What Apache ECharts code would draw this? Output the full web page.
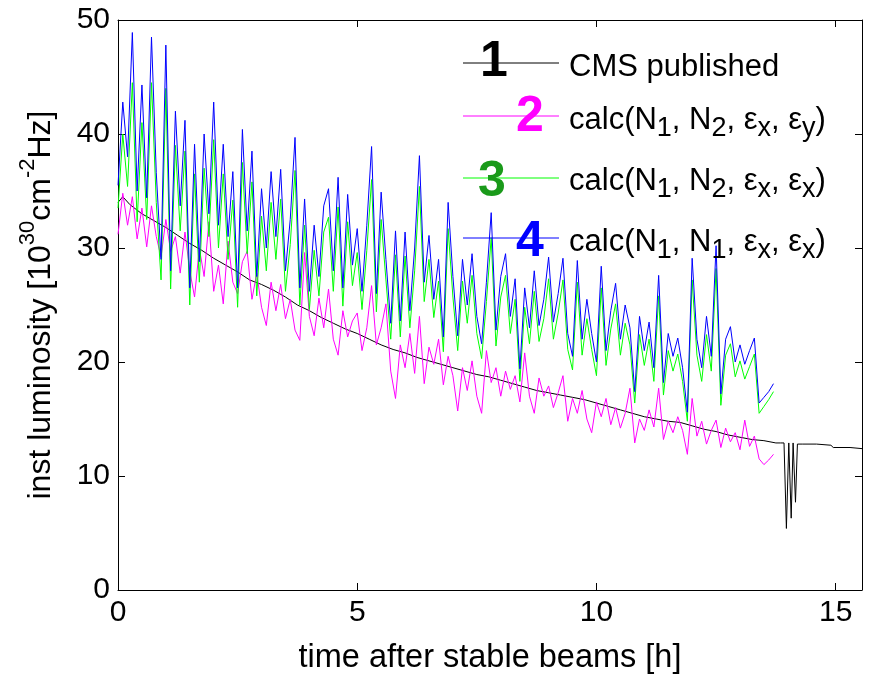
<!DOCTYPE html>
<html>
<head>
<meta charset="utf-8">
<script src="https://cdn.jsdelivr.net/npm/echarts@6/dist/echarts.min.js"></script>
<style>
  html, body { margin: 0; padding: 0; background: #fff; }
  #chart { width: 871px; height: 680px; }
</style>
</head>
<body>
<div id="chart"></div>
<script>
// Sampling times [h] of the calculated luminosities
var tCalc = [
  0.0, 0.1, 0.2, 0.3, 0.4, 0.5, 0.6, 0.7, 0.8, 0.9,
  1.0, 1.1, 1.2, 1.3, 1.4, 1.5, 1.6, 1.7, 1.8, 1.9,
  2.0, 2.1, 2.2, 2.3, 2.4, 2.5, 2.6, 2.7, 2.8, 2.9,
  3.0, 3.1, 3.2, 3.3, 3.4, 3.5, 3.6, 3.7, 3.8, 3.9,
  4.0, 4.1, 4.2, 4.3, 4.4, 4.5, 4.6, 4.7, 4.8, 4.9,
  5.0, 5.1, 5.2, 5.3, 5.4, 5.5, 5.6, 5.7, 5.8, 5.9,
  6.0, 6.1, 6.2, 6.3, 6.4, 6.5, 6.6, 6.7, 6.8, 6.9,
  7.0, 7.1, 7.2, 7.3, 7.4, 7.5, 7.6, 7.7, 7.8, 7.9,
  8.0, 8.1, 8.2, 8.3, 8.4, 8.5, 8.6, 8.7, 8.8, 8.9,
  9.0, 9.1, 9.2, 9.3, 9.4, 9.5, 9.6, 9.7, 9.8, 9.9,
  10.0, 10.1, 10.2, 10.3, 10.4, 10.5, 10.6, 10.7, 10.8, 10.9,
  11.0, 11.1, 11.2, 11.3, 11.4, 11.5, 11.6, 11.7, 11.8, 11.9,
  12.0, 12.1, 12.2, 12.3, 12.4, 12.5, 12.6, 12.7, 12.8, 12.9,
  13.0, 13.1, 13.2, 13.3, 13.4, 13.5, 13.6, 13.7
];

// 2: calc(N1, N2, eps_x, eps_y)
var lumiCalc2 = [
  31.2, 34.8, 32.0, 34.5, 30.8, 33.5, 30.1, 33.7, 31.0, 29.2,
  32.5, 29.7, 31.0, 27.8, 31.4, 28.0, 25.7, 30.0, 27.5, 32.3,
  26.2, 28.5, 25.1, 30.6, 27.0, 26.0, 28.8, 29.7, 25.5, 27.8,
  24.8, 23.2, 27.0, 24.5, 26.8, 23.8, 25.5, 22.8, 21.9, 29.6,
  24.0, 22.3, 25.6, 23.0, 26.4, 22.0, 20.6, 24.5, 22.2, 23.6,
  24.3, 21.0, 23.0, 26.7, 21.5, 23.0, 25.1, 19.2, 16.8, 21.5,
  19.5, 22.5, 19.0, 24.0, 18.1, 21.3, 19.8, 22.0, 18.0, 20.5,
  18.8, 15.7, 19.5, 17.5, 20.1, 17.0, 15.5, 21.0, 18.2, 19.5,
  17.0, 19.2, 17.6, 18.8, 16.5, 20.8, 17.0, 15.5, 18.6, 17.0,
  17.9, 16.0, 17.3, 18.8, 14.8, 16.8, 15.5, 17.5, 15.0, 13.8,
  16.5, 15.2, 16.8, 14.5, 16.0, 14.2, 15.5, 17.7, 12.9, 15.0,
  14.0, 15.8, 14.3, 17.7, 13.2, 14.8, 13.8, 15.2, 14.0, 11.9,
  16.8, 13.5, 14.8, 12.8, 14.0, 14.9, 12.5, 14.2, 13.0, 13.8,
  12.3, 14.9, 12.6, 13.5, 11.5, 11.0, 11.4, 11.9
];

// 3: calc(N1, N2, eps_x, eps_x)
var lumiCalc3 = [
  33.5, 40.0, 35.4, 44.5, 32.3, 41.0, 32.5, 44.5, 34.0, 27.2,
  44.0, 26.4, 39.0, 31.5, 38.5, 25.0, 36.5, 27.0, 37.0, 31.0,
  39.5, 30.0, 36.5, 29.0, 34.2, 24.8, 37.5, 29.5, 35.8, 25.8,
  32.8, 28.0, 34.0, 29.0, 34.3, 26.2, 30.3, 36.8, 25.0, 32.0,
  24.6, 29.8, 25.8, 31.4, 32.7, 26.2, 33.6, 24.9, 32.3, 26.7,
  29.6, 24.6, 29.8, 36.0, 24.4, 32.5, 27.2, 22.0, 29.4, 22.2,
  29.3, 23.0, 28.0, 35.4, 25.3, 29.0, 23.9, 27.1, 20.9, 31.7,
  25.7, 21.0, 27.1, 23.4, 27.6, 22.5, 20.3, 25.3, 30.9, 21.4,
  25.7, 27.6, 22.5, 25.5, 18.3, 24.8, 21.6, 26.2, 21.8, 23.8,
  27.3, 22.0, 24.3, 27.2, 21.1, 19.3, 27.0, 20.6, 23.8, 21.1,
  18.8, 26.5, 19.7, 22.9, 25.1, 20.6, 23.4, 21.5, 16.4, 22.4,
  19.7, 22.0, 18.3, 25.8, 17.1, 21.0, 19.2, 20.7, 18.3, 14.8,
  27.2, 20.6, 18.3, 22.4, 19.2, 28.2, 16.2, 20.6, 21.6, 18.7,
  20.1, 18.5, 19.6, 20.7, 15.5, 16.1, 16.7, 17.4
];

// 4: calc(N1, N1, eps_x, eps_x)
var lumiCalc4 = [
  35.5, 42.8, 38.0, 48.9, 35.0, 44.3, 34.4, 48.5, 36.6, 29.0,
  47.8, 28.0, 42.0, 33.7, 41.2, 26.5, 39.1, 28.8, 40.0, 33.0,
  42.8, 32.0, 39.1, 31.0, 36.7, 26.5, 40.4, 31.5, 38.5, 27.5,
  35.2, 30.0, 36.7, 31.0, 36.9, 28.0, 32.5, 39.7, 26.5, 34.3,
  26.2, 32.0, 27.5, 33.7, 35.2, 28.0, 36.2, 26.5, 34.7, 28.5,
  31.7, 26.2, 32.0, 38.9, 26.0, 34.9, 29.0, 23.4, 31.5, 23.6,
  31.4, 24.5, 30.0, 38.1, 27.0, 31.1, 25.5, 29.0, 22.2, 34.0,
  27.5, 22.3, 29.0, 25.0, 29.5, 24.0, 21.6, 27.0, 33.1, 22.8,
  27.5, 29.5, 24.0, 27.3, 19.4, 26.5, 23.0, 28.0, 23.2, 25.5,
  29.2, 23.5, 26.0, 29.1, 22.5, 20.5, 28.9, 22.0, 25.5, 22.5,
  20.0, 28.4, 21.0, 24.5, 26.9, 22.0, 25.0, 23.0, 17.4, 24.0,
  21.0, 23.5, 19.5, 27.6, 18.2, 22.5, 20.5, 22.1, 19.5, 15.6,
  29.1, 22.0, 19.5, 24.0, 20.5, 30.2, 17.2, 22.0, 23.1, 20.0,
  21.5, 19.8, 21.0, 22.1, 16.4, 16.9, 17.4, 18.1
];

// 1: CMS published luminosity
var tCms = [
  0.0, 0.1, 0.25, 0.5, 0.75, 1.0, 1.25, 1.5, 1.75, 2.0,
  2.25, 2.5, 2.75, 3.0, 3.25, 3.5, 3.75, 4.0, 4.25, 4.5,
  4.75, 5.0, 5.25, 5.5, 5.75, 6.0, 6.25, 6.5, 6.75, 7.0,
  7.25, 7.5, 7.75, 8.0, 8.25, 8.5, 8.75, 9.0, 9.25, 9.5,
  9.75, 10.0, 10.25, 10.5, 10.75, 11.0, 11.25, 11.5, 11.75, 12.0,
  12.25, 12.5, 12.75, 13.0, 13.25, 13.5, 13.75, 13.85, 13.92, 13.97,
  14.02, 14.07, 14.11, 14.16, 14.2, 14.3, 14.6, 14.9, 14.95, 15.3,
  15.55
];
var lumiCms = [
  34.0, 34.5, 33.8, 33.0, 32.4, 31.8, 31.1, 30.4, 29.8, 29.1,
  28.5, 27.9, 27.2, 26.8, 26.3, 25.7, 25.0, 24.5, 23.9, 23.4,
  22.9, 22.5, 22.0, 21.5, 21.1, 20.8, 20.4, 20.1, 19.8, 19.5,
  19.2, 18.9, 18.7, 18.4, 18.1, 17.8, 17.5, 17.3, 17.1, 16.9,
  16.7, 16.4, 16.1, 15.8, 15.5, 15.2, 15.0, 14.8, 14.7, 14.4,
  14.1, 13.9, 13.6, 13.4, 13.2, 13.1, 12.9, 12.9, 12.9, 5.4,
  12.9, 6.3, 12.9, 7.7, 12.8, 12.8, 12.8, 12.7, 12.5, 12.5,
  12.4
];

var xTicks = [0, 5, 10, 15];
var yTicks = [0, 10, 20, 30, 40, 50];

var legendDigits = ['1', '2', '3', '4'];
var legendTexts = [
  '{n|CMS published}',
  '{n|calc(N}{s|1}{n|, N}{s|2}{n|, ε}{s|x}{n|, ε}{s|y}{n|)}',
  '{n|calc(N}{s|1}{n|, N}{s|2}{n|, ε}{s|x}{n|, ε}{s|x}{n|)}',
  '{n|calc(N}{s|1}{n|, N}{s|1}{n|, ε}{s|x}{n|, ε}{s|x}{n|)}'
];

function pairs(xs, ys) {
  return ys.map(function (v, i) { return [xs[i], v]; });
}

var FONT = '"Liberation Sans", Arial, sans-serif';
var lineColors = ['#000000', '#ff00ff', '#00ff00', '#0000ff'];
var digitColors = ['#000000', '#ff00ff', '#1a9a1a', '#0000ff'];

var chart = echarts.init(document.getElementById('chart'), null, { renderer: 'canvas' });

var axisCommon = {
  axisLine: { show: true, onZero: false, lineStyle: { color: '#000', width: 1 } },
  axisTick: { show: true, inside: true, length: 7, lineStyle: { color: '#000', width: 1 } },
  splitLine: { show: false }
};

function tickFormatter(list) {
  return function (v) {
    return list.indexOf(Math.round(v * 1000) / 1000) >= 0 ? String(v) : '';
  };
}

// legend: coloured line, large bold index digit, label with subscripts
var legendRows = [
  { ly: 63, dx: 494, dy: 62, ty: 67 },
  { ly: 116, dx: 530, dy: 117, ty: 120 },
  { ly: 178, dx: 492, dy: 182, ty: 181 },
  { ly: 238, dx: 530, dy: 242, ty: 242 }
];
var graphics = [];
legendRows.forEach(function (r, i) {
  graphics.push({
    type: 'line', z: 100,
    shape: { x1: 463, y1: r.ly, x2: 559, y2: r.ly },
    style: { stroke: lineColors[i], lineWidth: 1 }
  });
  graphics.push({
    type: 'text', z: 101,
    x: r.dx, y: r.dy,
    style: {
      text: legendDigits[i], fill: digitColors[i],
      font: 'bold 50px ' + FONT, textAlign: 'center', textVerticalAlign: 'middle'
    }
  });
  graphics.push({
    type: 'text', z: 101,
    x: 569, y: r.ty,
    style: {
      text: legendTexts[i], fill: '#000',
      textAlign: 'left', textVerticalAlign: 'middle',
      rich: {
        n: { fontSize: 31, fontFamily: FONT, color: '#000', lineHeight: 44, verticalAlign: 'middle' },
        s: { fontSize: 27, fontFamily: FONT, color: '#000', lineHeight: 24, verticalAlign: 'bottom' }
      }
    }
  });
});

var option = {
  animation: false,
  backgroundColor: '#fff',
  grid: { left: 118, right: 9, top: 20, bottom: 87, containLabel: false },
  xAxis: [
    Object.assign({
      type: 'value', position: 'bottom', min: 0, max: 15.55, interval: 5,
      name: 'time after stable beams [h]', nameLocation: 'middle', nameGap: 52,
      nameTextStyle: { fontSize: 32.5, fontFamily: FONT, color: '#000' },
      axisLabel: {
        fontSize: 30, fontFamily: FONT, color: '#000', margin: 8,
        showMaxLabel: false, formatter: tickFormatter(xTicks)
      }
    }, axisCommon),
    Object.assign({
      type: 'value', position: 'top', min: 0, max: 15.55, interval: 5,
      axisLabel: { show: false }
    }, axisCommon)
  ],
  yAxis: [
    Object.assign({
      type: 'value', position: 'left', min: 0, max: 50, interval: 10,
      name: '{n|inst luminosity [10}{s|30}{n|cm}{s|-2}{n|Hz]}',
      nameLocation: 'middle', nameGap: 61, nameRotate: 90,
      nameTextStyle: {
        rich: {
          n: { fontSize: 32, fontFamily: FONT, color: '#000', lineHeight: 40, verticalAlign: 'bottom' },
          s: { fontSize: 22, fontFamily: FONT, color: '#000', lineHeight: 22, verticalAlign: 'top' }
        }
      },
      axisLabel: {
        fontSize: 30, fontFamily: FONT, color: '#000', margin: 8,
        formatter: tickFormatter(yTicks)
      }
    }, axisCommon),
    Object.assign({
      type: 'value', position: 'right', min: 0, max: 50, interval: 10,
      axisLabel: { show: false }
    }, axisCommon)
  ],
  series: [
    { name: 'CMS published', type: 'line', data: pairs(tCms, lumiCms) },
    { name: 'calc 2', type: 'line', data: pairs(tCalc, lumiCalc2) },
    { name: 'calc 3', type: 'line', data: pairs(tCalc, lumiCalc3) },
    { name: 'calc 4', type: 'line', data: pairs(tCalc, lumiCalc4) }
  ].map(function (s, i) {
    return Object.assign(s, {
      xAxisIndex: 0, yAxisIndex: 0,
      showSymbol: false, symbol: 'none',
      lineStyle: { color: lineColors[i], width: 1 },
      itemStyle: { color: lineColors[i] },
      z: 2 + i
    });
  }),
  graphic: graphics
};

chart.setOption(option);
</script>
</body>
</html>
